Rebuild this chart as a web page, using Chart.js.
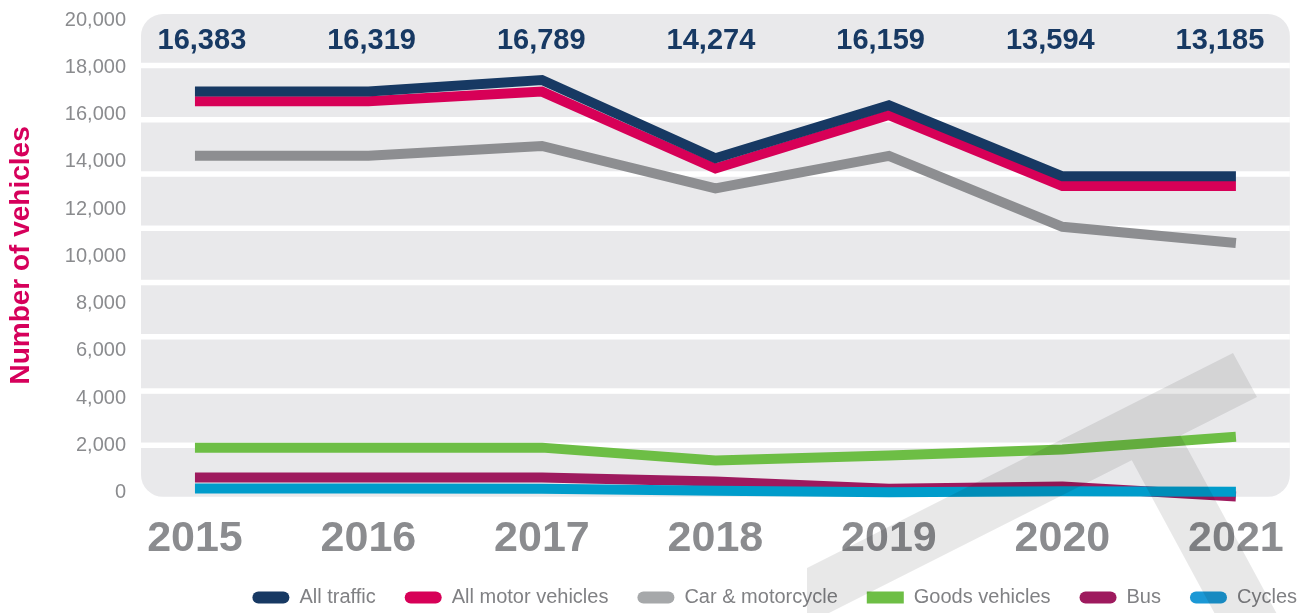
<!DOCTYPE html>
<html>
<head>
<meta charset="utf-8">
<script src="https://cdn.jsdelivr.net/npm/chart.js@4.4.1/dist/chart.umd.min.js"></script>
<style>
html,body{margin:0;padding:0;background:#ffffff;}
#wrap{width:1306px;height:613px;position:relative;}
</style>
</head>
<body>
<div id="wrap"><canvas id="c"></canvas></div>
<script>
// ---- data ----
const years = [2015, 2016, 2017, 2018, 2019, 2020, 2021];
const allTrafficTotals = [16383, 16319, 16789, 14274, 16159, 13594, 13185];
const allTraffic       = [16980, 16980, 17460, 14150, 16390, 13390, 13390];
const allMotorVehicles = [16560, 16560, 16970, 13720, 15980, 12980, 12980];
const carMotorcycle    = [14260, 14260, 14670, 12880, 14250, 11250, 10570];
const goodsVehicles    = [1910, 1910, 1910, 1370, 1580, 1830, 2370];
const bus              = [650, 650, 650, 480, 170, 270, -160];
const cycles           = [180, 180, 170, 90, 20, 60, 40];
const yTicks = [0, 2000, 4000, 6000, 8000, 10000, 12000, 14000, 16000, 18000, 20000];

const seriesNames  = ['All traffic', 'All motor vehicles', 'Car & motorcycle', 'Goods vehicles', 'Bus', 'Cycles'];
const seriesData   = [allTraffic, allMotorVehicles, carMotorcycle, goodsVehicles, bus, cycles];
const lineColors   = ['#173963', '#d70057', '#8d8e91', '#6dbe45', '#9e1a5e', '#009ccb'];
const legendColors = ['#173963', '#d70057', '#a6a8aa', '#6dbe45', '#9e1a5e', '#1b98d5'];
const legendRadius = [6, 6, 6, 0, 6, 6];
const drawOrder    = [0, 0, 0, 0, 1, 0];

const FONT = "'Liberation Sans', Arial, Helvetica, sans-serif";
Chart.defaults.font.family = FONT;

const panelPlugin = {
  id: 'panel',
  beforeDraw(chart) {
    const {ctx, chartArea: a, scales: {x}} = chart;
    const inset = x.getPixelForValue(years[0]) - a.left;
    const L = a.left, R = x.getPixelForValue(years[years.length - 1]) + inset;
    const T = a.top, B = a.bottom;
    ctx.save();
    ctx.fillStyle = '#e9e9eb';
    ctx.beginPath();
    ctx.roundRect(L, T, R - L, B - T, 22);
    ctx.fill();
    const n = 8, sw = 5.5;
    const band = (B - T - n * sw) / (n + 1);
    ctx.fillStyle = '#ffffff';
    for (let k = 1; k <= n; k++) {
      const y = T + k * band + (k - 1) * sw;
      ctx.fillRect(L, y, R - L, sw);
    }
    ctx.restore();
  }
};

const totalsPlugin = {
  id: 'totals',
  afterDatasetsDraw(chart) {
    const {ctx, chartArea: a, scales: {x}} = chart;
    const mid = x.getPixelForValue(years[3]);
    const spread = 0.978, shift = -4.5;
    ctx.save();
    ctx.font = "bold 29px " + FONT;
    ctx.fillStyle = '#173963';
    ctx.textAlign = 'center';
    ctx.textBaseline = 'middle';
    years.forEach((yr, i) => {
      const px = mid + shift + (x.getPixelForValue(yr) - mid) * spread;
      ctx.fillText(allTrafficTotals[i].toLocaleString('en-US'), px, a.top + 27);
    });
    ctx.restore();
  }
};

const watermarkPlugin = {
  id: 'watermark',
  afterDraw(chart) {
    const {ctx} = chart;
    ctx.save();
    ctx.fillStyle = 'rgba(0,0,0,0.09)';
    ctx.beginPath();
    ctx.moveTo(807, 568); ctx.lineTo(1233, 353); ctx.lineTo(1257, 397); ctx.lineTo(829, 613); ctx.lineTo(807, 613);
    ctx.closePath();
    ctx.moveTo(1110, 420); ctx.lineTo(1172, 420); ctx.lineTo(1291, 640); ctx.lineTo(1229, 640);
    ctx.closePath();
    ctx.fill('nonzero');
    ctx.restore();
  }
};

const datasets = seriesNames.map((name, i) => ({
  label: name,
  data: seriesData[i],
  borderColor: lineColors[i],
  backgroundColor: legendColors[i],
  borderWidth: 10,
  pointRadius: 0,
  pointHoverRadius: 0,
  tension: 0,
  fill: false,
  clip: false,
  borderCapStyle: 'butt',
  borderJoinStyle: 'miter',
  order: drawOrder[i]
}));

new Chart(document.getElementById('c'), {
  type: 'line',
  data: { labels: years, datasets },
  options: {
    responsive: true,
    maintainAspectRatio: false,
    animation: false,
    events: [],
    layout: { padding: { left: 0, right: -20, top: 14, bottom: -4.5 } },
    plugins: {
      tooltip: { enabled: false },
      legend: {
        position: 'bottom',
        align: 'end',
        labels: {
          boxWidth: 37,
          boxHeight: 12,
          padding: 29,
          color: '#808184',
          font: { size: 20, family: FONT },
          useBorderRadius: true,
          generateLabels(chart) {
            return chart.data.datasets.map((ds, i) => ({
              text: ds.label,
              fillStyle: legendColors[i],
              strokeStyle: legendColors[i],
              lineWidth: 0,
              hidden: false,
              datasetIndex: i,
              borderRadius: legendRadius[i],
              fontColor: '#808184'
            }));
          }
        }
      }
    },
    scales: {
      x: {
        type: 'linear',
        min: 2014.689,
        max: 2021.404,
        grid: { display: true, drawOnChartArea: false, drawTicks: true, tickLength: 23, color: 'rgba(0,0,0,0)' },
        border: { display: false },
        afterBuildTicks(scale) { scale.ticks = years.map(v => ({ value: v })); },
        afterFit(scale) { scale.paddingLeft = 0; scale.paddingRight = 0; },
        ticks: {
          padding: 0,
          color: '#8b8c8f',
          font: { size: 43, weight: 'bold', family: FONT, lineHeight: 0.9 },
          callback: v => String(v),
          maxRotation: 0,
          autoSkip: false
        }
      },
      y: {
        min: -170,
        max: 20254,
        grid: { display: false, drawTicks: false },
        border: { display: false },
        afterBuildTicks(scale) { scale.ticks = yTicks.map(v => ({ value: v })); },
        afterFit(scale) { scale.width = 141; scale.paddingTop = 0; scale.paddingBottom = 0; },
        ticks: {
          padding: 15,
          color: '#8a8b8e',
          font: { size: 20, family: FONT },
          callback: v => Number(v).toLocaleString('en-US')
        },
        title: {
          display: true,
          text: 'Number of vehicles',
          color: '#d6005b',
          font: { size: 28, weight: 'bold', family: FONT },
          padding: { top: 4, bottom: 4 }
        }
      }
    }
  },
  plugins: [panelPlugin, totalsPlugin, watermarkPlugin]
});
</script>
</body>
</html>
